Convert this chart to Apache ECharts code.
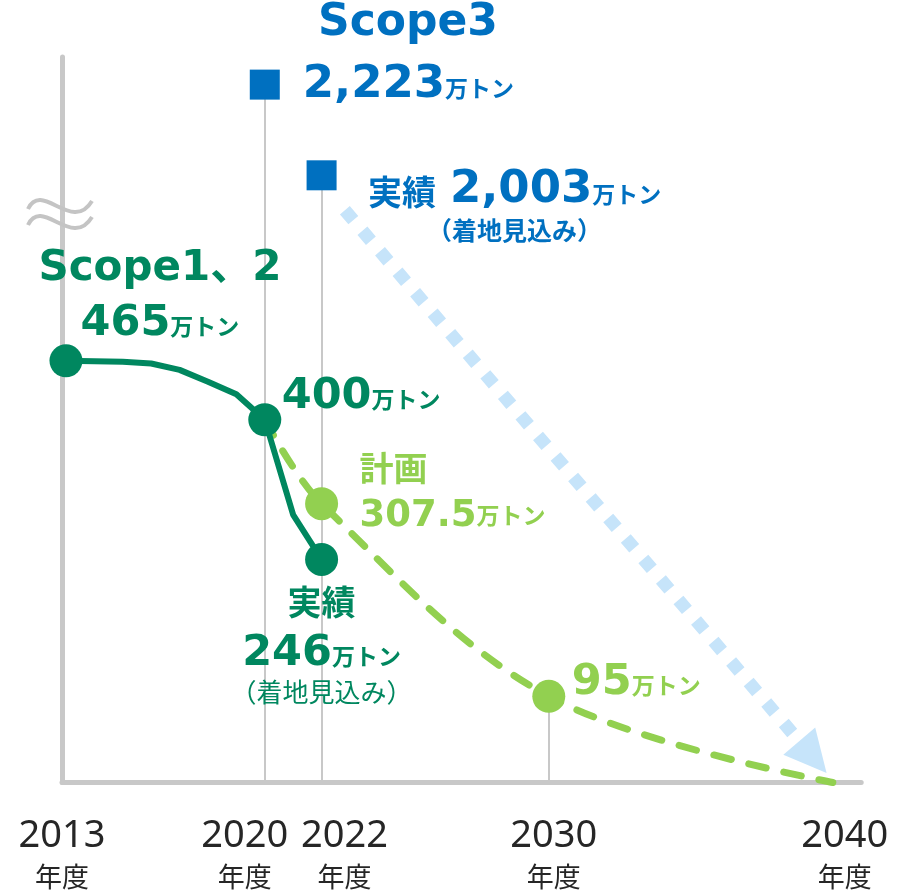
<!DOCTYPE html>
<html><head><meta charset="utf-8">
<script src="https://cdn.jsdelivr.net/npm/echarts@6/dist/echarts.min.js"></script>
<style>html,body{margin:0;padding:0;background:#fff}#c{width:902px;height:890px}</style>
</head><body><div id="c"></div>
<script>
// ---- data ----
const tickYears = [2013, 2020, 2022, 2030, 2040];
const tickUnit = '年度';
const titleText = 'Scope3';
const seriesName12 = 'Scope1、2';
const unitText = '万トン';
const actualLabel = '実績';
const planLabel = '計画';
const noteText = '（着地見込み）';
const actualYears = [2013, 2015, 2016, 2017, 2018, 2019, 2020, 2021, 2022];
const actualValues = [465, 464, 462, 455, 442, 428, 400, 295, 246];
const planYears = [2020, 2022, 2030, 2040];
const planValues = [400, 307.5, 95, 0];
const scope3Years = [2020, 2022];
const scope3Values = [2223, 2003];
const arrowYears = [2022.82, 2039.3];
const arrowValues = [631, 28];

// ---- styles ----
const G = '#00875f', LG = '#92d050', B = '#0070c0', GRAY = '#c8c8c8', LB = '#c6e4fa';
const FN = '"DejaVu Sans","Noto Sans CJK JP",sans-serif';
const FJ = '"Noto Sans CJK JP",sans-serif';
const S3_MIN = 530, S3_MAX = 2290;
const labelShift = [-4, -20, 23, 5, 12];
const fmt = v => v.toLocaleString('en-US');

function rich(color) {
  return {
    s: {fontFamily: FN, fontWeight: 'bold', fontSize: 42, color, lineHeight: 54},
    n: {fontFamily: FN, fontWeight: 'bold', fontSize: 43, color, lineHeight: 50, verticalAlign: 'bottom'},
    b: {fontFamily: FN, fontWeight: 'bold', fontSize: 45, color, lineHeight: 50, verticalAlign: 'bottom'},
    m: {fontFamily: FN, fontWeight: 'bold', fontSize: 37, color, lineHeight: 44, verticalAlign: 'bottom'},
    u: {fontFamily: FJ, fontWeight: 'bold', fontSize: 23, color, lineHeight: 40, verticalAlign: 'bottom', padding: [0, 0, 8, 0]},
    j: {fontFamily: FJ, fontWeight: 'bold', fontSize: 34, color, lineHeight: 46},
    k: {fontFamily: FJ, fontWeight: 'bold', fontSize: 34, color, lineHeight: 50, verticalAlign: 'bottom', padding: [0, 14, 4, 0]},
    p: {fontFamily: FJ, fontWeight: 'bold', fontSize: 25, color, lineHeight: 34},
    q: {fontFamily: FJ, fontWeight: 'normal', fontSize: 26, color, lineHeight: 34}
  };
}
function lab(color, align, offset, formatter) {
  return {show: true, position: 'inside', align, verticalAlign: 'middle', offset, formatter, rich: rich(color)};
}

const actualLabels = {
  2013: lab(G, 'center', [94, -67], p => `{s|${seriesName12}}\n{n|${fmt(p.value[1])}}{u|${unitText}}`),
  2020: lab(G, 'left', [17, -26], p => `{n|${fmt(p.value[1])}}{u|${unitText}}`),
  2022: lab(G, 'center', [0, 85], p => `{j|${actualLabel}}\n{n|${fmt(p.value[1])}}{u|${unitText}}\n{q|${noteText}}`)
};
const planLabels = {
  2022: lab(LG, 'left', [38, -14], p => `{j|${planLabel}}\n{m|${fmt(p.value[1])}}{u|${unitText}}`),
  2030: lab(LG, 'left', [23, -17], p => `{n|${fmt(p.value[1])}}{u|${unitText}}`)
};
const scope3Labels = {
  2020: lab(B, 'left', [38, -2], p => `{b|${fmt(p.value[1])}}{u|${unitText}}`),
  2022: lab(B, 'center', [193, 30], p => `{k|${actualLabel}}{b|${fmt(p.value[1])}}{u|${unitText}}\n{p|${noteText}}`)
};

function items(years, vals, labels, size) {
  return years.map((y, i) => {
    const it = {value: [y, vals[i]]};
    if (labels[y]) { it.symbol = 'circle'; it.symbolSize = size; it.label = labels[y]; }
    else { it.symbol = 'none'; it.symbolSize = 0; }
    return it;
  });
}
const actualData = items(actualYears, actualValues, actualLabels, 33);
const planData = items(planYears, planValues, planLabels, 33);
const scope3Data = scope3Years.map((y, i) => ({value: [y, scope3Values[i]], label: scope3Labels[y]}));

const xRich = {};
tickYears.forEach((y, i) => {
  const s = labelShift[i];
  const pad = s < 0 ? [0, -2 * s, 0, 0] : [0, 0, 0, 2 * s];
  xRich['y' + i] = {fontFamily: '"Noto Sans",sans-serif', fontSize: 38, color: '#262626', lineHeight: 46, padding: pad};
  xRich['d' + i] = {fontFamily: FJ, fontSize: 27, color: '#262626', lineHeight: 34, padding: pad};
});

const chart = echarts.init(document.getElementById('c'), null, {renderer: 'canvas'});
chart.setOption({
  animation: false,
  backgroundColor: '#fff',
  title: {text: titleText, left: 318, top: 2, padding: 0,
    textStyle: {fontFamily: FN, fontWeight: 'bold', fontSize: 44, color: B}},
  grid: {left: 62, top: 57, width: 799.2, height: 728},
  xAxis: {type: 'value', min: 2012.86, max: 2041,
    axisLine: {show: true, lineStyle: {color: GRAY, width: 5}},
    axisTick: {show: false}, splitLine: {show: false},
    axisLabel: {show: true, customValues: tickYears, margin: 31, rich: xRich,
      formatter: v => { const i = tickYears.indexOf(v); return `{y${i}|${v}}\n{d${i}|${tickUnit}}`; }}},
  yAxis: [
    {type: 'value', min: 0, max: 800, axisLine: {show: true, lineStyle: {color: GRAY, width: 5}},
      axisTick: {show: false}, axisLabel: {show: false}, splitLine: {show: false}},
    {type: 'value', min: S3_MIN, max: S3_MAX, show: false, splitLine: {show: false}}
  ],
  graphic: [
    {type: 'bezierCurve', z: 100, shape: {x1: 28, y1: 209, cpx1: 42, cpy1: 180, cpx2: 72, cpy2: 234, x2: 92, y2: 201},
      style: {stroke: '#c4c4c4', lineWidth: 4, fill: null}},
    {type: 'bezierCurve', z: 100, shape: {x1: 28, y1: 225, cpx1: 42, cpy1: 196, cpx2: 72, cpy2: 250, x2: 92, y2: 217},
      style: {stroke: '#c4c4c4', lineWidth: 4, fill: null}}
  ],
  series: [
    {type: 'lines', coordinateSystem: 'cartesian2d', xAxisIndex: 0, yAxisIndex: 1, z: 1, silent: true,
      lineStyle: {color: GRAY, width: 2, opacity: 1},
      data: scope3Years.map((y, i) => ({coords: [[y, scope3Values[i]], [y, S3_MIN]]}))},
    {type: 'lines', coordinateSystem: 'cartesian2d', xAxisIndex: 0, yAxisIndex: 0, z: 1, silent: true,
      lineStyle: {color: GRAY, width: 2, opacity: 1},
      data: [{coords: [[planYears[2], planValues[2]], [planYears[2], 0]]}]},
    {type: 'lines', coordinateSystem: 'cartesian2d', xAxisIndex: 0, yAxisIndex: 0, z: 2, silent: true,
      symbol: ['none', 'triangle'], symbolSize: [0, 42],
      lineStyle: {color: LB, width: 13, type: [13, 14], opacity: 1, cap: 'butt'},
      data: [{coords: arrowYears.map((y, i) => [y, arrowValues[i]])}]},
    {type: 'line', name: planLabel, z: 3, smooth: 0.35, data: planData,
      lineStyle: {color: LG, width: 7, type: [18, 18], cap: 'round'},
      itemStyle: {color: LG, borderWidth: 0, opacity: 1}, emphasis: {disabled: true}},
    {type: 'line', name: actualLabel, z: 4, data: actualData,
      lineStyle: {color: G, width: 6},
      itemStyle: {color: G, borderWidth: 0, opacity: 1}, emphasis: {disabled: true}},
    {type: 'scatter', name: titleText, xAxisIndex: 0, yAxisIndex: 1, z: 5, symbol: 'rect', symbolSize: 30,
      itemStyle: {color: B, opacity: 1}, data: scope3Data, emphasis: {disabled: true}}
  ]
});
</script></body></html>
